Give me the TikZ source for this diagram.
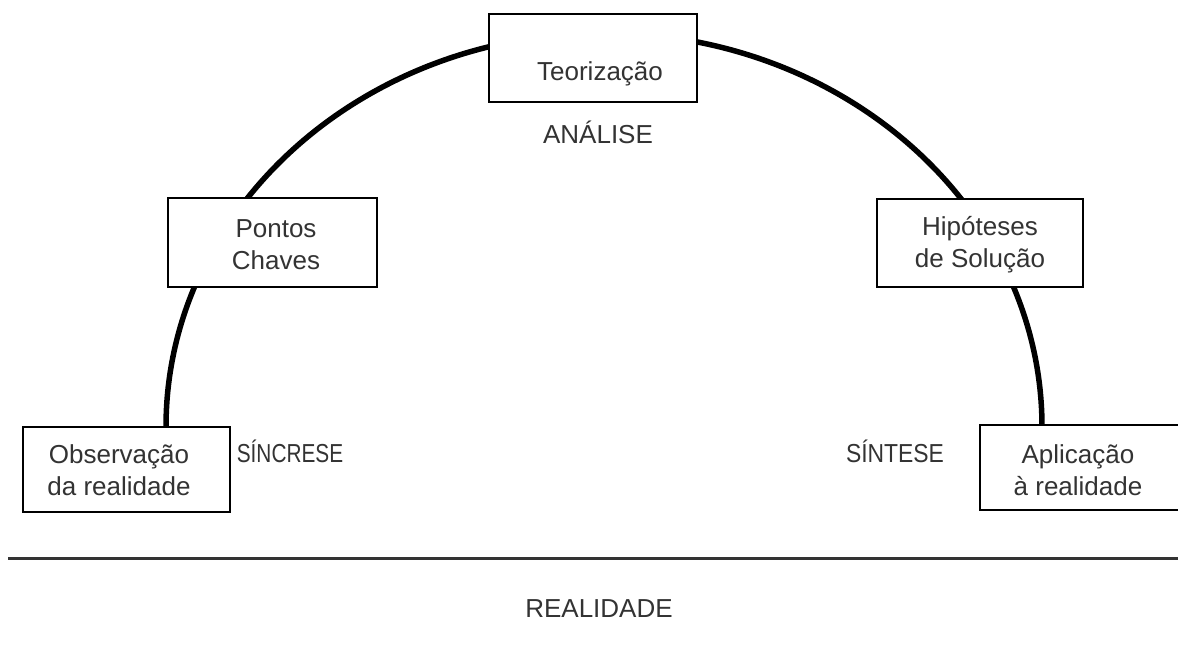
\documentclass[tikz,border=0pt]{standalone}
\usepackage{fontspec}
\setmainfont{Liberation Sans}
\usepackage{graphicx}
\definecolor{ink}{HTML}{333333}
\begin{document}
\begin{tikzpicture}[x=1pt,y=-1pt,
  box/.style={draw=black, line width=2.8pt, fill=white, inner sep=0pt},
  lbl/.style={text=ink, font=\fontsize{26}{32}\selectfont, inner sep=0pt, align=center},
  arcline/.style={line width=5.5pt, draw=black},
  ground/.style={line width=3pt, draw=black!80}
]
\clip (0,0) rectangle (1178,649);
\fill[white] (0,0) rectangle (1178,649);
% arc behind the boxes
\coordinate (arcL) at (166,427);
\draw[arcline] (arcL) arc[start angle=180, end angle=360, x radius=438, y radius=394];
% boxes
\node[box, minimum width=208pt, minimum height=88pt] (teo) at (593,58) {};
\node[box, minimum width=209pt, minimum height=89pt] (pon) at (272.5,242.5) {};
\node[box, minimum width=206pt, minimum height=88pt] (hip) at (980,243) {};
\node[box, minimum width=207pt, minimum height=85pt] (obs) at (126.5,469.5) {};
\node[box, minimum width=210pt, minimum height=85pt] (apl) at (1085,467.5) {};
% box texts
\node[lbl, anchor=base] (teoT) at (600,80) {Teorização};
\node[lbl] (ponT) at (276,245) {Pontos\\Chaves};
\node[lbl] (hipT) at (980,245) {Hipóteses\\de Solução};
\node[lbl] (obsT) at (119,470) {Observação\\da realidade};
\node[lbl] (aplT) at (1078,470) {Aplicação\\à realidade};
% free labels
\node[lbl, anchor=base] (ana) at (598,143) {ANÁLISE};
\node[lbl, anchor=base] (sinc) at (290,462) {\scalebox{0.8}[1]{SÍNCRESE}};
\node[lbl, anchor=base] (sint) at (895,462) {\scalebox{0.88}[1]{SÍNTESE}};
\node[lbl, anchor=base] (real) at (599,617) {REALIDADE};
% ground line
\coordinate (gL) at (8,558);
\coordinate (gR) at (1178,558);
\draw[ground] (gL) -- (gR);
\end{tikzpicture}
\end{document}
